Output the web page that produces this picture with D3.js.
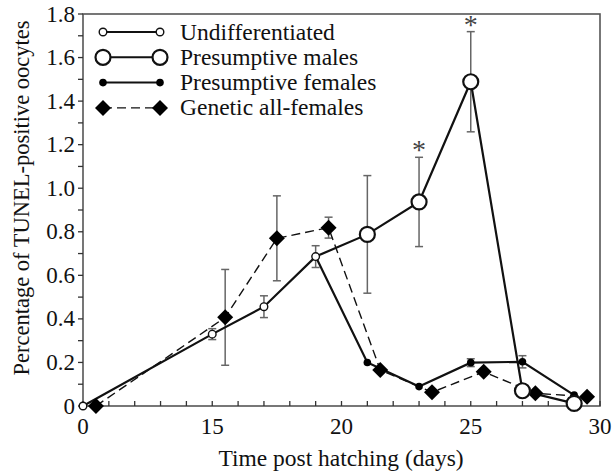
<!DOCTYPE html>
<html><head><meta charset="utf-8">
<script src="https://cdn.jsdelivr.net/npm/d3@7"></script>
<style>body{margin:0;background:#fff}svg{display:block}text{font-family:"Liberation Serif","Times New Roman",serif;fill:#111}</style>
</head><body><svg id="c" width="613" height="471"></svg>
<script>
// Data (days post hatching, percentage, s.e.)
const undiffDays = [0, 15, 17, 19];
const undiffVals = [0, 0.33, 0.456, 0.686];
const undiffErr  = [0, 0.025, 0.05, 0.05];

const maleDays = [21, 23, 25, 27, 29];
const maleVals = [0.788, 0.937, 1.489, 0.07, 0.012];
const maleErr  = [0.27, 0.205, 0.23, 0, 0];

const femaleDays = [21, 23, 25, 27, 29];
const femaleVals = [0.2, 0.089, 0.199, 0.203, 0.05];
const femaleErr  = [0, 0, 0.018, 0.028, 0];

const geneticDays = [0.5, 15.5, 17.5, 19.5, 21.5, 23.5, 25.5, 27.5, 29.5];
const geneticVals = [0, 0.407, 0.77, 0.819, 0.165, 0.063, 0.157, 0.058, 0.043];
const geneticErr  = [0, 0.22, 0.195, 0.048, 0, 0, 0, 0, 0];

const xTickLabels = ["0", "15", "20", "25", "30"];
const yTickLabels = ["0", "0.2", "0.4", "0.6", "0.8", "1.0", "1.2", "1.4", "1.6", "1.8"];
const significant = [23, 25];
const legendLabels = ["Undifferentiated", "Presumptive males", "Presumptive females", "Genetic all-females"];

const svg = d3.select("#c");
const L = 83, R = 600, T = 14, B = 406;
// broken axis: days 0..10 are drawn at positions 10..20 of the scale
const xs = d3.scaleLinear().domain([10, 30]).range([L, R]);
const x = d => xs(d < 10 ? d + 10 : d);
const y = d3.scaleLinear().domain([0, 1.8]).range([B, T]);

// frame
svg.append("rect").attr("x", L).attr("y", T).attr("width", R - L).attr("height", B - T)
  .attr("fill", "none").attr("stroke", "#555").attr("stroke-width", 1.6);

// y ticks (outward)
const yAxis = svg.append("g");
d3.range(0, 19).forEach(i => {
  const v = i / 10, yy = y(v);
  yAxis.append("line").attr("x1", L).attr("x2", L - 5).attr("y1", yy).attr("y2", yy)
    .attr("stroke", "#333").attr("stroke-width", 1.3);
});
yTickLabels.forEach((t, i) => {
  yAxis.append("text").attr("x", L - 8).attr("y", y(i * 0.2) + 7.5).attr("text-anchor", "end")
    .attr("font-size", 23).text(t);
});
// x ticks (inward), one per day
d3.range(10, 31).forEach(d => {
  svg.append("line").attr("x1", xs(d)).attr("x2", xs(d)).attr("y1", B).attr("y2", B - 5)
    .attr("stroke", "#333").attr("stroke-width", 1.3);
});
xTickLabels.forEach((t, i) => {
  svg.append("text").attr("x", xs(10 + i * 5)).attr("y", B + 28).attr("text-anchor", "middle")
    .attr("font-size", 23).text(t);
});
svg.append("text").attr("x", 341).attr("y", 466).attr("text-anchor", "middle")
  .attr("font-size", 23.5).text("Time post hatching (days)");
svg.append("text").attr("transform", `translate(29,${(T + B) / 2 - 12}) rotate(-90)`)
  .attr("text-anchor", "middle").attr("font-size", 22.5).text("Percentage of TUNEL-positive oocytes");

const line = d3.line().x(p => x(p[0])).y(p => y(p[1]));
const zip = (ds, vs) => ds.map((d, i) => [d, vs[i]]);
const last = undiffDays.length - 1;
const branch = [undiffDays[last], undiffVals[last]];

// error bars
function errBars(ds, vs, es) {
  ds.forEach((d, i) => {
    if (!es[i]) return;
    const xx = x(d), y1 = y(vs[i] + es[i]), y2 = y(vs[i] - es[i]);
    const g = svg.append("g").attr("stroke", "#666").attr("stroke-width", 1.5);
    g.append("line").attr("x1", xx).attr("x2", xx).attr("y1", y1).attr("y2", y2);
    g.append("line").attr("x1", xx - 4).attr("x2", xx + 4).attr("y1", y1).attr("y2", y1);
    g.append("line").attr("x1", xx - 4).attr("x2", xx + 4).attr("y1", y2).attr("y2", y2);
  });
}
errBars(undiffDays, undiffVals, undiffErr);
errBars(geneticDays, geneticVals, geneticErr);
errBars(maleDays, maleVals, maleErr);
errBars(femaleDays, femaleVals, femaleErr);

// lines
svg.append("path").attr("d", line(zip(geneticDays, geneticVals))).attr("fill", "none")
  .attr("stroke", "#111").attr("stroke-width", 1.4).attr("stroke-dasharray", "9,5");
svg.append("path").attr("d", line(zip(undiffDays, undiffVals))).attr("fill", "none")
  .attr("stroke", "#111").attr("stroke-width", 2.2);
svg.append("path").attr("d", line([branch].concat(zip(femaleDays, femaleVals)))).attr("fill", "none")
  .attr("stroke", "#111").attr("stroke-width", 2.2);
svg.append("path").attr("d", line([branch].concat(zip(maleDays, maleVals)))).attr("fill", "none")
  .attr("stroke", "#111").attr("stroke-width", 2.2);

// markers
const diamond = (g, cx, cy, s) => g.append("path")
  .attr("d", `M${cx},${cy - s}L${cx + s},${cy}L${cx},${cy + s}L${cx - s},${cy}Z`).attr("fill", "#000");
const mk = {
  undiff: (g, cx, cy) => g.append("circle").attr("cx", cx).attr("cy", cy).attr("r", 3.8)
    .attr("fill", "#fff").attr("stroke", "#111").attr("stroke-width", 1.4),
  male: (g, cx, cy) => g.append("circle").attr("cx", cx).attr("cy", cy).attr("r", 7.5)
    .attr("fill", "#fff").attr("stroke", "#111").attr("stroke-width", 2.2),
  female: (g, cx, cy) => g.append("circle").attr("cx", cx).attr("cy", cy).attr("r", 3.8).attr("fill", "#000"),
  genetic: (g, cx, cy) => diamond(g, cx, cy, 8)
};
const mg = svg.append("g");
geneticDays.forEach((d, i) => mk.genetic(mg, x(d), y(geneticVals[i])));
femaleDays.forEach((d, i) => mk.female(mg, x(d), y(femaleVals[i])));
undiffDays.forEach((d, i) => mk.undiff(mg, x(d), y(undiffVals[i])));
maleDays.forEach((d, i) => mk.male(mg, x(d), y(maleVals[i])));

// significance asterisks
significant.forEach(d => {
  const i = maleDays.indexOf(d);
  svg.append("text").attr("x", x(d)).attr("y", y(maleVals[i] + maleErr[i]) + 2)
    .attr("text-anchor", "middle").attr("font-size", 28).style("fill", "#444").text("*");
});

// legend
const legKeys = ["undiff", "male", "female", "genetic"];
legKeys.forEach((k, i) => {
  const ly = 32 + i * 25.3;
  const g = svg.append("g");
  g.append("line").attr("x1", 103).attr("x2", 160).attr("y1", ly).attr("y2", ly)
    .attr("stroke", "#111").attr("stroke-width", k === "genetic" ? 1.4 : 2)
    .attr("stroke-dasharray", k === "genetic" ? "9,5" : null);
  mk[k](g, 103, ly); mk[k](g, 160, ly);
  g.append("text").attr("x", 180).attr("y", ly + 7.5).attr("font-size", 23.5).text(legendLabels[i]);
});
</script></body></html>
